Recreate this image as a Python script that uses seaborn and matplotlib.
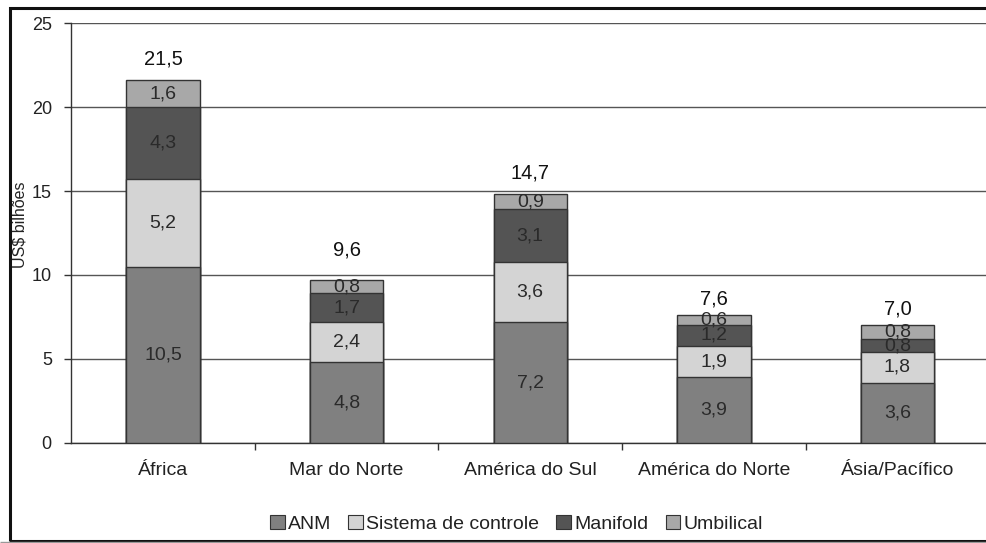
import matplotlib
matplotlib.use("Agg")
import matplotlib.pyplot as plt
from matplotlib.patches import Patch, Rectangle
import numpy as np
import pandas as pd
import seaborn as sns

# Regional spending, US$ billions
regions = ["África", "Mar do Norte", "América do Sul", "América do Norte", "Ásia/Pacífico"]
anm = [10.5, 4.8, 7.2, 3.9, 3.6]
controle = [5.2, 2.4, 3.6, 1.9, 1.8]
manifold = [4.3, 1.7, 3.1, 1.2, 0.8]
umbilical = [1.6, 0.8, 0.9, 0.6, 0.8]
totals = [21.5, 9.6, 14.7, 7.6, 7.0]

series_names = ["ANM", "Sistema de controle", "Manifold", "Umbilical"]
series_values = [anm, controle, manifold, umbilical]
series_colors = ["#808080", "#d4d4d4", "#545454", "#a8a8a8"]

# gap between bar top and its total label (data units)
total_gap = [1.25, 1.8, 1.3, 0.95, 1.0]

sns.set_theme(style="white")
plt.rcParams["font.family"] = ["Liberation Sans", "DejaVu Sans"]

fig = plt.figure(figsize=(9.87, 5.43), dpi=100)
ax = fig.add_axes([0.0722, 0.1842, 0.93, 0.7734])

# stacked bars: draw cumulative heights from the top layer down
cum = np.cumsum(np.array(series_values), axis=0)
for i in range(len(series_names) - 1, -1, -1):
    df = pd.DataFrame({"region": regions, "value": cum[i]})
    sns.barplot(data=df, x="region", y="value", color=series_colors[i],
                saturation=1, width=0.4, edgecolor="#333333", linewidth=1.0,
                ax=ax, zorder=3)

# segment labels
for i, vals in enumerate(series_values):
    base = cum[i] - np.array(vals)
    for j, v in enumerate(vals):
        ax.text(j, base[j] + v / 2, f"{v:.1f}".replace(".", ","),
                ha="center", va="center", fontsize=14, color="#2a2a2a", zorder=5)

# totals above bars
for j, t in enumerate(totals):
    ax.text(j, cum[-1][j] + total_gap[j], f"{t:.1f}".replace(".", ","),
            ha="center", va="center", fontsize=14.5, color="#111111", zorder=5)

ax.set_xlim(-0.5, 4.5)
ax.set_ylim(0, 25)
ax.set_yticks([0, 5, 10, 15, 20, 25])
ax.yaxis.grid(True, color="#555555", linewidth=1.0)
ax.set_axisbelow(True)
ax.set_xlabel("")
ax.set_ylabel("US$ bilhões", fontsize=11.5, color="#222222")
ax.yaxis.label.set_verticalalignment("center")
ax.yaxis.set_label_coords(-0.056, 0.52)

for side in ["top", "right"]:
    ax.spines[side].set_visible(False)
ax.spines["left"].set_color("#333333")
ax.spines["bottom"].set_color("#333333")
ax.spines["left"].set_linewidth(1.0)
ax.spines["bottom"].set_linewidth(1.0)

# category ticks on the boundaries, labels centred
ax.set_xticks([0.5, 1.5, 2.5, 3.5], minor=False)
ax.set_xticklabels([])
ax.set_xticks(range(len(regions)), minor=True)
ax.set_xticklabels(regions, minor=True)
ax.tick_params(axis="x", which="major", direction="out", length=5, width=1, color="#333333", bottom=True)
ax.tick_params(axis="x", which="minor", length=0, pad=14, labelsize=14, labelcolor="#222222")
ax.tick_params(axis="y", direction="out", length=5, width=1, color="#333333", left=True,
               labelsize=13, labelcolor="#222222", pad=9)

handles = [Patch(facecolor=c, edgecolor="#333333", linewidth=0.8) for c in series_colors]
fig.legend(handles, series_names, loc="center", bbox_to_anchor=(0.523, 0.035), ncol=4,
           frameon=False, fontsize=14, handlelength=0.75, handleheight=0.75,
           handletextpad=0.15, columnspacing=0.9, labelcolor="#222222")

# figure frame
fig.patches.append(Rectangle((9.5 / 987, 2 / 543), 1.2, 1 - 9.5 / 543, transform=fig.transFigure,
                             fill=False, edgecolor="#111111", linewidth=2.2, zorder=10))
fig.patches.append(Rectangle((0, 1.5 / 543), 1, 0, transform=fig.transFigure,
                             fill=False, edgecolor="#999999", linewidth=1.0, zorder=10))

fig.savefig("out.png", dpi=100)
